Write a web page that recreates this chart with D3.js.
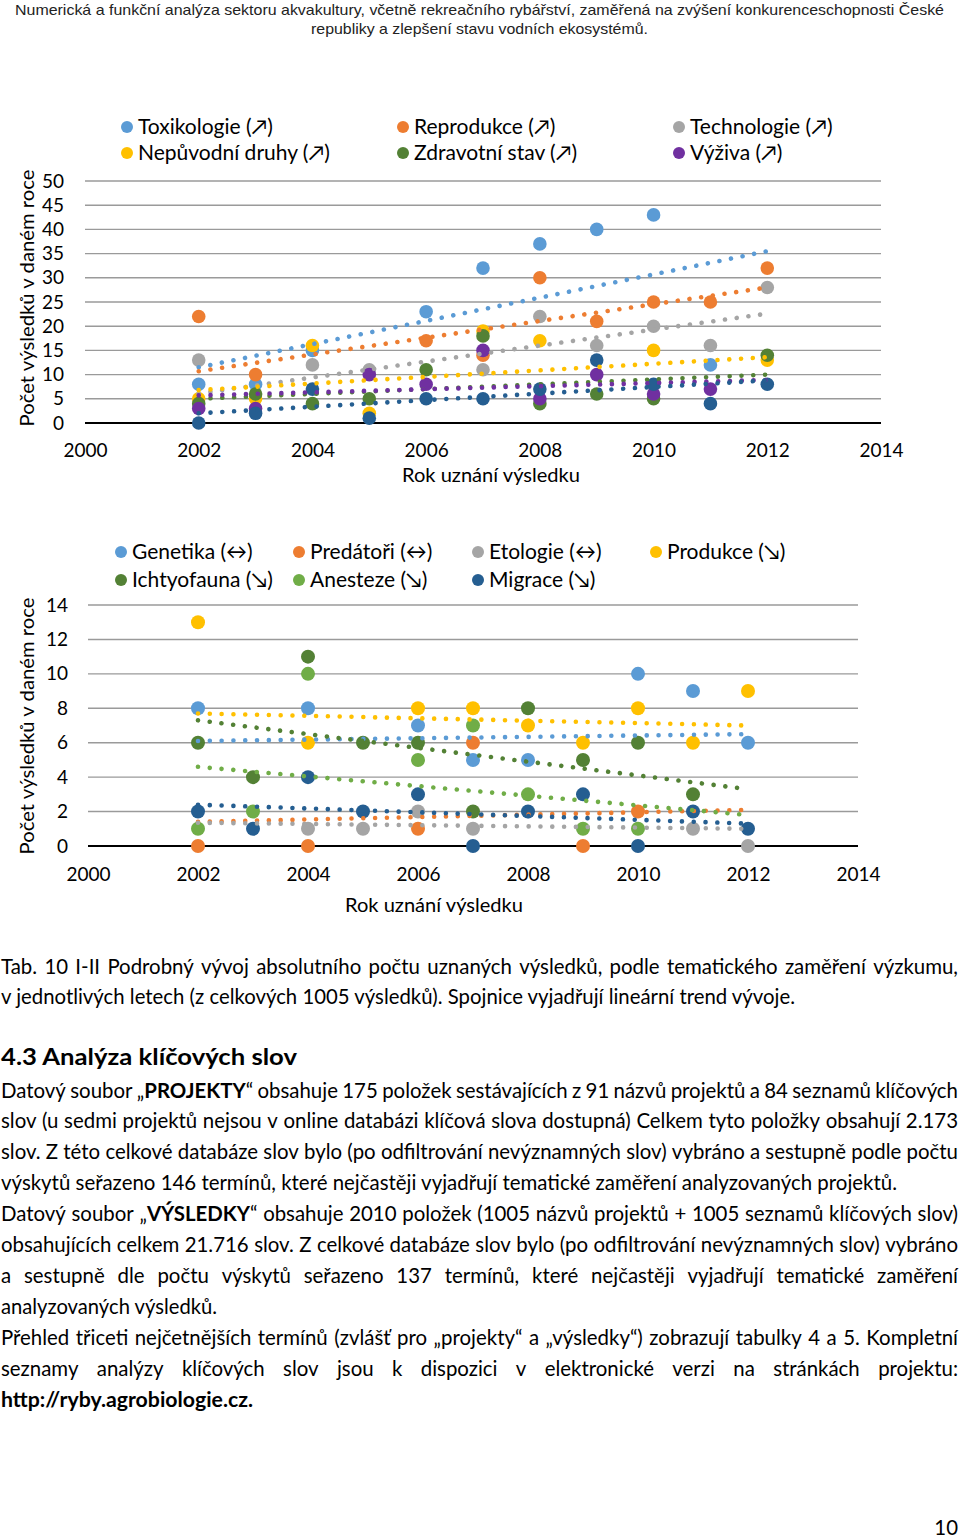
<!DOCTYPE html>
<html><head><meta charset="utf-8">
<script src="https://cdn.jsdelivr.net/npm/d3@7"></script>
<style>
body{margin:0;background:#fff;}
svg{display:block;}
text{font-family:Lato,"Open Sans",sans-serif;fill:#000;white-space:pre;}
</style></head><body>
<svg id="page" width="960" height="1538"></svg>
<script>
// ---------------- DATA ----------------
const years = [2002,2003,2004,2005,2006,2007,2008,2009,2010,2011,2012];
const xTicks = [2000,2002,2004,2006,2008,2010,2012,2014];

// Chart I
const c1Names = ["Toxikologie (↗)","Reprodukce (↗)","Technologie (↗)","Nepůvodní druhy (↗)","Zdravotní stav (↗)","Výživa (↗)","Ostatní"];
const c1InLegend = [true,true,true,true,true,true,false];
const toxikologie  = [8, 8, 15, null, 23, 32, 37, 40, 43, 12, null];
const reprodukce   = [22, 10, null, null, 17, 14, 30, 21, 25, 25, 32];
const technologie  = [13, null, 12, 11, null, 11, 22, 16, 20, 16, 28];
const nepuvodni    = [5, 5, 16, 2, null, 19, 17, null, 15, null, 13];
const zdravotni    = [4, 6, 4, 5, 11, 18, 4, 6, 5, null, 14];
const vyziva       = [3, 3, null, 10, 8, 15, 5, 10, 6, 7, null];
const ostatni      = [0, 2, 7, 1, 5, 5, 7, 13, 8, 4, 8];
// linear trend values (first year, last year)
const trend1 = [[11.5,35.5],[10.7,28],[6.1,22.6],[6.8,13.6],[5,10],[5.7,8.9],[2,8.8]];
const yTicks1 = [0,5,10,15,20,25,30,35,40,45,50];

// Chart II
const c2Names = ["Genetika (↔)","Predátoři (↔)","Etologie (↔)","Produkce (↘)","Ichtyofauna (↘)","Anesteze (↘)","Migrace (↘)"];
const genetika    = [8, null, 8, null, 7, 5, 5, null, 10, 9, 6];
const predatori   = [0, null, 0, null, 1, 6, null, 0, 2, null, null];
const etologie    = [null, null, 1, 1, 2, 1, null, null, null, 1, 0];
const produkce    = [13, null, 6, null, 8, 8, 7, 6, 8, 6, 9];
const ichtyofauna = [6, 4, 11, 6, 6, 2, 8, 5, 6, 3, null];
const anesteze    = [1, 2, 10, null, 5, 7, 3, 1, 1, null, null];
const migrace     = [2, 1, 4, 2, 3, 0, 2, 3, 0, 2, 1];
const trend2 = [[6.1,6.5],[1.4,2.1],[1.35,1.0],[7.7,7.0],[7.3,3.3],[4.6,1.8],[2.4,1.3]];
const yTicks2 = [0,2,4,6,8,10,12,14];

// ---------------- STYLE ----------------
const colors1 = ["#5B9BD5","#ED7D31","#A5A5A5","#FFC000","#538135","#7030A0","#255E91"];
const colors2 = ["#5B9BD5","#ED7D31","#A5A5A5","#FFC000","#538135","#70AD47","#255E91"];

const svg = d3.select("#page");

// header
const hdrFont = "'Liberation Sans Narrow','Liberation Sans',sans-serif";
svg.append("text").attr("x",479.5).attr("y",15).attr("text-anchor","middle").attr("font-size",15)
  .attr("textLength",929).attr("lengthAdjust","spacingAndGlyphs")
  .style("font-family",hdrFont).style("fill","#222")
  .text("Numerická a funkční analýza sektoru akvakultury, včetně rekreačního rybářství, zaměřená na zvýšení konkurenceschopnosti České");
svg.append("text").attr("x",479.5).attr("y",34).attr("text-anchor","middle").attr("font-size",15)
  .attr("textLength",337).attr("lengthAdjust","spacingAndGlyphs")
  .style("font-family",hdrFont).style("fill","#222")
  .text("republiky a zlepšení stavu vodních ekosystémů.");

function drawChart(cfg){
  const g = svg.append("g");
  const x = d3.scaleLinear().domain([2000,2014]).range([cfg.x0,cfg.x1]);
  const y = d3.scaleLinear().domain([0,cfg.yMax]).range([cfg.y0,cfg.y1]);
  g.selectAll(".grid").data(cfg.yTicks).join("line")
    .attr("x1",cfg.x0).attr("x2",cfg.x1).attr("y1",d=>y(d)).attr("y2",d=>y(d))
    .attr("stroke",d=>d===0?"#000":"#9a9a9a").attr("stroke-width",d=>d===0?2:1.4);
  const ya = g.append("g").attr("transform",`translate(${cfg.x0},0)`)
    .call(d3.axisLeft(y).tickValues(cfg.yTicks).tickSize(0).tickPadding(cfg.yPad).tickFormat(d3.format("d")));
  ya.select(".domain").remove();
  ya.selectAll("text").attr("font-size",19).style("font-family","Lato,sans-serif").attr("fill","#000");
  const xa = g.append("g").attr("transform",`translate(0,${cfg.y0})`)
    .call(d3.axisBottom(x).tickValues(xTicks).tickSize(0).tickPadding(cfg.xPad).tickFormat(d3.format("d")));
  xa.select(".domain").remove();
  xa.selectAll("text").attr("font-size",19).style("font-family","Lato,sans-serif").attr("fill","#000");
  g.append("text").attr("transform",`translate(${cfg.yTitleX},${cfg.yTitleY}) rotate(-90)`)
    .attr("text-anchor","middle").attr("font-size",19).attr("textLength",257).attr("lengthAdjust","spacingAndGlyphs")
    .text("Počet výsledků v daném roce");
  g.append("text").attr("x",cfg.xTitleX).attr("y",cfg.xTitleY).attr("text-anchor","middle")
    .attr("font-size",19).attr("textLength",178).attr("lengthAdjust","spacingAndGlyphs")
    .text("Rok uznání výsledku");
  cfg.series.forEach(s=>{
    g.append("g").selectAll("circle").data(years.map((yr,k)=>({yr,v:s.values[k]})).filter(d=>d.v!=null))
      .join("circle").attr("cx",d=>x(d.yr)).attr("cy",d=>y(d.v)).attr("r",cfg.r).attr("fill",s.color);
  });
  cfg.series.forEach(s=>{
    const pts = [[years[0],s.trend[0]],[years[years.length-1],s.trend[1]]];
    g.append("path").attr("d",d3.line().x(d=>x(d[0])).y(d=>y(d[1]))(pts))
      .attr("fill","none").attr("stroke",s.color).attr("stroke-width",4.6)
      .attr("stroke-linecap","round").attr("stroke-dasharray","0.01 11.8");
  });
  const leg = cfg.series.filter(s=>s.legend);
  leg.forEach((s,i)=>{
    const col = i % cfg.legCols.length, row = Math.floor(i/cfg.legCols.length);
    const lx = cfg.legCols[col], ly = cfg.legRows[row];
    g.append("circle").attr("cx",lx).attr("cy",ly).attr("r",6).attr("fill",s.color);
    g.append("text").attr("x",lx+11).attr("y",ly+7).attr("font-size",21).text(s.name);
  });
}

const s1vals = [toxikologie,reprodukce,technologie,nepuvodni,zdravotni,vyziva,ostatni];
drawChart({
  x0:85,x1:881,y0:423,y1:181,yMax:50,yTicks:yTicks1,yPad:21,xPad:21,r:6.8,
  yTitleX:33.5,yTitleY:298,xTitleX:491,xTitleY:482,
  legCols:[127,403,679],legRows:[127,153],
  series:c1Names.map((n,i)=>({name:n,values:s1vals[i],trend:trend1[i],color:colors1[i],legend:c1InLegend[i]}))
});
const s2vals = [genetika,predatori,etologie,produkce,ichtyofauna,anesteze,migrace];
drawChart({
  x0:88,x1:858,y0:846,y1:605,yMax:14,yTicks:yTicks2,yPad:20,xPad:22,r:7,
  yTitleX:33.5,yTitleY:726,xTitleX:434,xTitleY:912,
  legCols:[121,299,478,656],legRows:[552,580],
  series:c2Names.map((n,i)=>({name:n,values:s2vals[i],trend:trend2[i],color:colors2[i],legend:true}))
});

// ---------------- BODY TEXT ----------------
function parseWords(str){
  let bold=false;
  return str.split(" ").map(w=>{
    const segs=[]; w.split("**").forEach((p,k)=>{ if(k>0) bold=!bold; if(p) segs.push({t:p,b:bold}); });
    return segs;
  });
}
function fillSegs(t,segs){ segs.forEach(s=>t.append("tspan").attr("font-weight",s.b?700:400).text(s.t)); }
function measure(str,size){
  const t=svg.append("text").attr("font-size",size);
  const words=parseWords(str);
  words.forEach((segs,i)=>{const s2=segs.map(s=>({...s})); if(i<words.length-1) s2[s2.length-1].t+=" "; fillSegs(t,s2);});
  const w=t.node().getComputedTextLength(); t.remove(); return w;
}
// body font size chosen so that an unjustified reference line gets its width
const refLine = "výskytů seřazeno 146 termínů, které nejčastěji vyjadřují tematické zaměření analyzovaných projektů.";
const BODY = 17*896/measure(refLine,17);

function textLine(str,base,opt){
  const size=opt.size||BODY, x0=1, right=958;
  const words=parseWords(str);
  const g=svg.append("g");
  if(opt.justify){
    const widths=words.map(segs=>{const t=g.append("text").attr("font-size",size);fillSegs(t,segs);const w=t.node().getComputedTextLength();t.remove();return w;});
    const gap=(right-x0-d3.sum(widths))/(words.length-1);
    let xx=x0;
    words.forEach((segs,i)=>{const t=g.append("text").attr("x",xx).attr("y",base).attr("font-size",size);fillSegs(t,segs);xx+=widths[i]+gap;});
  } else {
    const t=g.append("text").attr("x",x0).attr("y",base).attr("font-size",size);
    words.forEach((segs,i)=>{ const s2=segs.map(s=>({...s})); if(i<words.length-1) s2[s2.length-1].t+=" "; fillSegs(t,s2); });
    if(opt.end) t.attr("textLength",opt.end-x0).attr("lengthAdjust","spacingAndGlyphs");
  }
}
textLine("Tab. 10 I-II Podrobný vývoj absolutního počtu uznaných výsledků, podle tematického zaměření výzkumu,",974,{justify:true});
textLine("v jednotlivých letech (z celkových 1005 výsledků). Spojnice vyjadřují lineární trend vývoje.",1004,{end:795});
textLine("**4.3 Analýza klíčových slov**",1065,{size:22.5,end:297});

const paraLines = [
  ["Datový soubor „**PROJEKTY**“ obsahuje 175 položek sestávajících z 91 názvů projektů a 84 seznamů klíčových",{justify:true}],
  ["slov (u sedmi projektů nejsou v online databázi klíčová slova dostupná) Celkem tyto položky obsahují 2.173",{justify:true}],
  ["slov. Z této celkové databáze slov bylo (po odfiltrování nevýznamných slov) vybráno a sestupně podle počtu",{justify:true}],
  ["výskytů seřazeno 146 termínů, které nejčastěji vyjadřují tematické zaměření analyzovaných projektů.",{end:897}],
  ["Datový soubor „**VÝSLEDKY**“ obsahuje 2010 položek (1005 názvů projektů + 1005 seznamů klíčových slov)",{justify:true}],
  ["obsahujících celkem 21.716 slov. Z celkové databáze slov bylo (po odfiltrování nevýznamných slov) vybráno",{justify:true}],
  ["a sestupně dle počtu výskytů seřazeno 137 termínů, které nejčastěji vyjadřují tematické zaměření",{justify:true}],
  ["analyzovaných výsledků.",{end:217}],
  ["Přehled třiceti nejčetnějších termínů (zvlášť pro „projekty“ a „výsledky“) zobrazují tabulky 4 a 5. Kompletní",{justify:true}],
  ["seznamy analýzy klíčových slov jsou k dispozici v elektronické verzi na stránkách projektu:",{justify:true}],
  ["**http://ryby.agrobiologie.cz.**",{end:253}]
];
paraLines.forEach((l,i)=>textLine(l[0],1097.5+i*30.9,l[1]));

svg.append("text").attr("x",958).attr("y",1535).attr("text-anchor","end").attr("font-size",BODY).text("10");
</script>
</body></html>
